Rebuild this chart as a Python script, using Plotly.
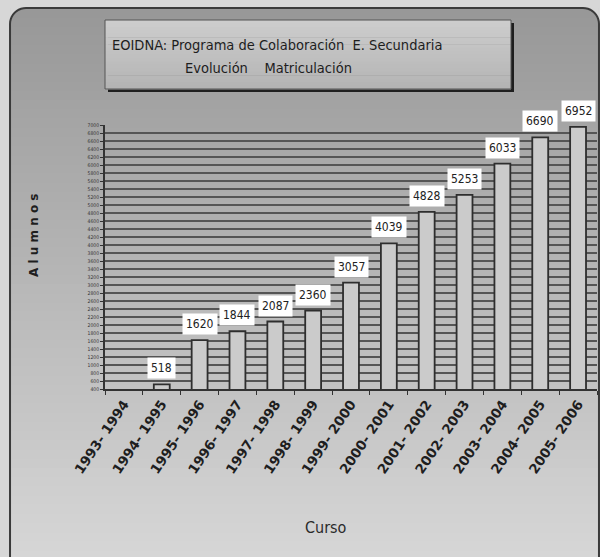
import math
import plotly.graph_objects as go

W, H = 600, 557

cursos = ["1993- 1994", "1994- 1995", "1995- 1996", "1996- 1997", "1997- 1998",
          "1998- 1999", "1999- 2000", "2000- 2001", "2001- 2002", "2002- 2003",
          "2003- 2004", "2004- 2005", "2005- 2006"]
alumnos = [0, 518, 1620, 1844, 2087, 2360, 3057, 4039, 4828, 5253, 6033, 6690, 6952]
y_ticks = list(range(400, 7001, 200))

title_line1 = "EOIDNA: Programa de Colaboración  E. Secundaria"
title_line2 = "Evolución    Matriculación"

NARROW = "DejaVu Sans Condensed, Liberation Sans Narrow, sans-serif"


def px(x):
    return x / W


def py(y):
    return 1 - y / H


def lerp(c0, c1, t):
    return "#%02x%02x%02x" % tuple(int(round(a + (b - a) * t)) for a, b in zip(c0, c1))


shapes = []
shapes.append(dict(type="rect", xref="paper", yref="paper", x0=0, x1=1, y0=0, y1=1,
                   fillcolor="#d7d7d7", line=dict(width=0), layer="below"))
px0, px1, pt, pb = 10, 599, 8, 560
nb = 60
top_c, bot_c = (152, 152, 152), (214, 214, 214)
for i in range(nb):
    y0 = pt + (pb - pt) * i / nb
    y1 = pt + (pb - pt) * (i + 1) / nb + 0.8
    shapes.append(dict(type="rect", xref="paper", yref="paper", x0=px(px0), x1=px(px1),
                       y0=py(y1), y1=py(y0), fillcolor=lerp(top_c, bot_c, i / (nb - 1)),
                       line=dict(width=0), layer="below"))
r = 16


def cpath_mask(cx, cy, sx, sy):
    ax, ay = cx + sx * r, cy + sy * r
    pts = [(cx, cy), (cx + sx * r, cy)]
    for k in range(11):
        a = math.pi / 2 * k / 10
        pts.append((ax - sx * r * math.sin(a), ay - sy * r * math.cos(a)))
    pts.append((cx, cy + sy * r))
    return "M " + " L ".join("%.4f,%.4f" % (px(x), py(y)) for x, y in pts) + " Z"


for (cx, cy, sx, sy) in [(px0, pt, 1, 1), (px1, pt, -1, 1), (px0, pb, 1, -1)]:
    shapes.append(dict(type="path", xref="paper", yref="paper", path=cpath_mask(cx, cy, sx, sy),
                       fillcolor="#d7d7d7", line=dict(width=0), layer="below"))


def rounded_border():
    pts = []
    for k in range(11):
        a = math.pi / 2 * k / 10
        pts.append((px0 + r - r * math.cos(a), pt + r - r * math.sin(a)))
    for k in range(11):
        a = math.pi / 2 * k / 10
        pts.append((px1 - r + r * math.sin(a), pt + r - r * math.cos(a)))
    pts.append((px1, pb))
    pts.append((px0, pb))
    return "M " + " L ".join("%.4f,%.4f" % (px(x), py(y)) for x, y in pts) + " Z"


shapes.append(dict(type="path", xref="paper", yref="paper", path=rounded_border(),
                   fillcolor="rgba(0,0,0,0)", line=dict(color="#3a3a3a", width=2), layer="below"))

bx0, bx1, by0, by1 = 105, 511, 20, 89
shapes.append(dict(type="rect", xref="paper", yref="paper", x0=px(bx0 + 3), x1=px(bx1 + 3),
                   y0=py(by1 + 3), y1=py(by0 + 3), fillcolor="#1e1e1e", line=dict(width=0), layer="below"))
nt = 20
for i in range(nt):
    y0 = by0 + (by1 - by0) * i / nt
    y1 = by0 + (by1 - by0) * (i + 1) / nt + 0.6
    shapes.append(dict(type="rect", xref="paper", yref="paper", x0=px(bx0), x1=px(bx1),
                       y0=py(y1), y1=py(y0), fillcolor=lerp((205, 205, 205), (180, 180, 180), i / (nt - 1)),
                       line=dict(width=0), layer="below"))
shapes.append(dict(type="rect", xref="paper", yref="paper", x0=px(bx0), x1=px(bx1),
                   y0=py(by1), y1=py(by0), fillcolor="rgba(0,0,0,0)",
                   line=dict(color="#555555", width=1), layer="below"))

fig = go.Figure()
fig.add_trace(go.Bar(
    x=cursos, y=alumnos, width=0.42,
    marker=dict(color="#cbcbcb", line=dict(color="#2e2e2e", width=1.8)),
    hoverinfo="x+y",
))

annotations = []
for c, v in zip(cursos, alumnos):
    if v <= 0:
        continue
    annotations.append(dict(x=c, y=v, xref="x", yref="y", text=str(v), showarrow=False,
                            yshift=16, bgcolor="white", borderpad=3,
                            font=dict(family=NARROW, size=12, color="#222222")))

annotations += [
    dict(x=px(110), y=py(45), xref="paper", yref="paper", xanchor="left", yanchor="middle",
         text=title_line1, showarrow=False,
         font=dict(family=NARROW, size=14.5, color="#1e1e1e")),
    dict(x=px(268), y=py(68), xref="paper", yref="paper", xanchor="center", yanchor="middle",
         text=title_line2, showarrow=False,
         font=dict(family=NARROW, size=14.5, color="#1e1e1e")),
    dict(x=px(34), y=py(236), xref="paper", yref="paper", xanchor="center", yanchor="middle",
         text="<b>A l u m n o s</b>", textangle=-90, showarrow=False,
         font=dict(family="DejaVu Sans, sans-serif", size=12, color="#1e1e1e")),
    dict(x=px(326), y=py(527), xref="paper", yref="paper", xanchor="center", yanchor="middle",
         text="Curso", showarrow=False,
         font=dict(family=NARROW, size=16, color="#2a2a2a")),
]

fig.update_layout(
    width=W, height=H,
    margin=dict(l=0, r=0, t=0, b=0),
    paper_bgcolor="#d7d7d7",
    plot_bgcolor="white",
    showlegend=False,
    shapes=shapes,
    annotations=annotations,
    xaxis=dict(domain=[px(105), px(597)], type="category", tickangle=-56,
               tickson="boundaries", ticks="outside", ticklen=4, tickcolor="#333333",
               showline=True, linecolor="#333333", linewidth=2, showgrid=False,
               tickfont=dict(family="DejaVu Sans, sans-serif", size=13.5, color="#1e1e1e", weight="bold"),
               automargin=False),
    yaxis=dict(domain=[py(389), py(125)], range=[400, 7000], tickvals=y_ticks,
               ticktext=[str(v) for v in y_ticks],
               showline=True, linecolor="#333333", linewidth=2, ticks="outside", ticklen=3,
               tickcolor="#333333",
               showgrid=True, gridcolor="#555555", gridwidth=1.6, zeroline=False,
               tickfont=dict(family=NARROW, size=5, color="#333333"),
               automargin=False),
)

fig.write_html("out.html", config={"displayModeBar": False},
               post_script="document.body.style.margin='0';document.body.style.overflow='hidden';")
